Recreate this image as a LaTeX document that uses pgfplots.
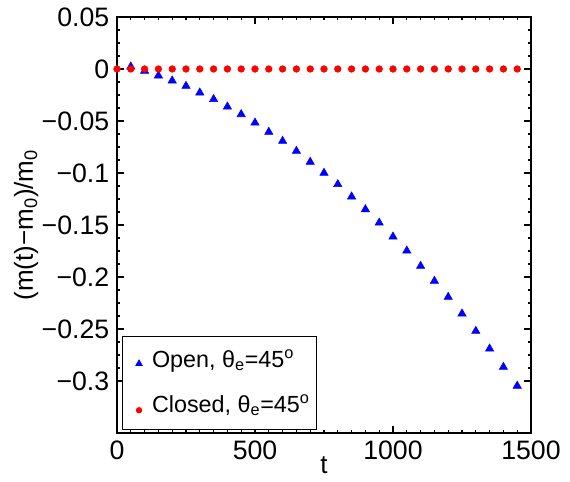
\documentclass[border=0pt]{standalone}
\usepackage{pgfplots}
\pgfplotsset{compat=1.18}
\usepackage{fontspec}
\setmainfont{Liberation Sans}

\begin{document}
\fontsize{20}{24}\selectfont
\begin{tikzpicture}
\path[use as bounding box] (-87.75pt,-36pt) rectangle (339.75pt,324.75pt);
\begin{axis}[
  at={(0,0)}, anchor=south west,
  scale only axis,
  width=310.5pt, height=312pt,
  xmin=0, xmax=1500,
  ymin=-0.35, ymax=0.05,
  xtick={0,500,1000,1500},
  xticklabels={0,500,1000,1500},
  ytick={0.05,0,-0.05,-0.1,-0.15,-0.2,-0.25,-0.3},
  yticklabels={0.05,0,−0.05,−0.1,−0.15,−0.2,−0.25,−0.3},
  minor x tick num=9,
  minor y tick num=3,
  tick align=inside,
  major tick length=5pt,
  minor tick length=2.5pt,
  axis line style={line width=1.3pt},
  every tick/.style={black, line width=0.9pt},
  tick label style={font=\fontsize{20}{24}\selectfont},
  xticklabel style={yshift=1pt},
  yticklabel style={xshift=1pt},
  xlabel={t},
  ylabel={(m(t)−m\textsubscript{0})/m\textsubscript{0}},
  label style={font=\fontsize{19.5}{24}\selectfont},
  xlabel style={yshift=9pt, inner sep=0pt},
  ylabel style={yshift=-11pt},
  legend style={at={(0.012,0.007)}, anchor=south west, draw=black,
    line width=0.7pt, font=\fontsize{17.5}{21}\selectfont,
    inner xsep=3pt, inner ysep=8pt, row sep=14pt},
  legend cell align=left,
]
\addplot[only marks, mark=triangle*, mark size=3.6pt, color=blue,
  legend image code/.code={\path (0,0) (0.58cm,0);
    \draw[mark size=2.6pt] plot coordinates {(0.32cm,-0.08cm)};}] coordinates {
(50,0.0022) (100,-0.0019) (150,-0.0064) (200,-0.0112) (250,-0.0164)
(300,-0.0228) (350,-0.0291) (400,-0.0363) (450,-0.0436) (500,-0.0517)
(550,-0.0606) (600,-0.0693) (650,-0.0789) (700,-0.0894) (750,-0.1000)
(800,-0.1109) (850,-0.1228) (900,-0.1350) (950,-0.1479) (1000,-0.1613)
(1050,-0.1748) (1100,-0.1895) (1150,-0.2039) (1200,-0.2193) (1250,-0.2353)
(1300,-0.2520) (1350,-0.2690) (1400,-0.2866) (1450,-0.3047)
};
\addlegendentry{Open, θ\textsubscript{e}=45\textsuperscript{o}}
\addplot[only marks, mark=*, mark size=2.5pt, color=red,
  legend image code/.code={\path (0,0) (0.58cm,0);
    \draw[mark size=2pt] plot coordinates {(0.32cm,-0.12cm)};}] coordinates {
(0,0) (50,0) (100,0) (150,0) (200,0) (250,0) (300,0) (350,0) (400,0) (450,0)
(500,0) (550,0) (600,0) (650,0) (700,0) (750,0) (800,0) (850,0) (900,0) (950,0)
(1000,0) (1050,0) (1100,0) (1150,0) (1200,0) (1250,0) (1300,0) (1350,0) (1400,0) (1450,0)
};
\addlegendentry{Closed, θ\textsubscript{e}=45\textsuperscript{o}}
\end{axis}
\end{tikzpicture}
\end{document}
